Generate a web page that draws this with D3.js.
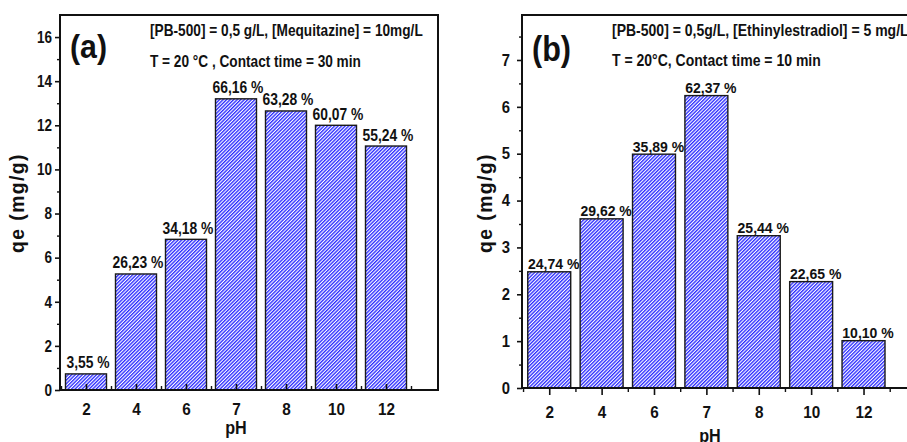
<!DOCTYPE html>
<html>
<head>
<meta charset="utf-8">
<script src="https://cdn.jsdelivr.net/npm/d3@7"></script>
<style>
  html, body { margin: 0; padding: 0; background: #fff; }
  svg { display: block; }
  text { font-family: "Liberation Sans", Arial, sans-serif; font-weight: bold; fill: #111; }
</style>
</head>
<body>
<script>
// ---------- data ----------
const categories = ["2", "4", "6", "7", "8", "10", "12"];
const qeA = [0.73, 5.26, 6.83, 13.2, 12.65, 12.0, 11.06];
const qeB = [2.48, 3.61, 4.99, 6.24, 3.25, 2.27, 1.01];
const labelsA = ["3,55 %", "26,23 %", "34,18 %", "66,16 %", "63,28 %", "60,07 %", "55,24 %"];
const labelsB = ["24,74 %", "29,62 %", "35,89 %", "62,37 %", "25,44 %", "22,65 %", "10,10 %"];
const yTicksA = [0, 2, 4, 6, 8, 10, 12, 14, 16];
const yTicksB = [0, 1, 2, 3, 4, 5, 6, 7];
const notesA = ["[PB-500] = 0,5 g/L, [Mequitazine] = 10mg/L", "T = 20 °C , Contact time = 30 min"];
const notesB = ["[PB-500] = 0,5g/L, [Ethinylestradiol] = 5 mg/L", "T = 20°C, Contact time = 10 min"];

const W = 907, H = 442;
const svg = d3.select("body").append("svg").attr("width", W).attr("height", H);

const defs = svg.append("defs");
const pat = defs.append("pattern").attr("id", "hatch")
  .attr("patternUnits", "userSpaceOnUse").attr("width", 2.5).attr("height", 2.5)
  .attr("patternTransform", "rotate(45)");
pat.append("rect").attr("width", 2.5).attr("height", 2.5).attr("fill", "#fff");
pat.append("rect").attr("width", 1.35).attr("height", 2.5).attr("fill", "#2a2aff");

// horizontal squeeze around the text's own x anchor
function squeeze(sel, s) {
  sel.each(function () {
    const x = +this.getAttribute("x") || 0;
    this.setAttribute("transform", `translate(${x},0) scale(${s},1) translate(${-x},0)`);
  });
}
function fitWidth(node, target) {
  const len = node.getComputedTextLength();
  const s = target / len;
  squeeze(d3.select(node), s);
  return s;
}

function panel(cfg) {
  const g = svg.append("g");
  const x = d3.scaleLinear().domain([-0.52, 7.04]).range([cfg.left, cfg.right]);
  const y = d3.scaleLinear().domain([0, cfg.ymax]).range([cfg.bottom, cfg.top]);
  const idx = d3.range(categories.length);
  const bw = x(0.41) - x(0);

  // bars
  g.selectAll("rect.bar").data(cfg.values).enter().append("rect")
    .attr("class", "bar")
    .attr("x", (d, i) => x(i) - bw)
    .attr("width", 2 * bw)
    .attr("y", d => y(d))
    .attr("height", d => y(0) - y(d))
    .attr("fill", "url(#hatch)")
    .attr("stroke", "#1a1a1a").attr("stroke-width", 1.4);

  // bar labels
  const labs = g.selectAll("text.lab").data(cfg.labels).enter().append("text")
    .attr("class", "lab")
    .attr("x", (d, i) => x(i) + cfg.labDx)
    .attr("y", (d, i) => y(cfg.values[i]) - cfg.labGap)
    .attr("text-anchor", "middle")
    .attr("font-size", cfg.labSize)
    .text(d => d);
  squeeze(labs, cfg.labScale);

  // x axis major
  const xa = g.append("g").attr("transform", `translate(0,${cfg.bottom})`)
    .call(d3.axisBottom(x).tickValues(idx).tickFormat(i => categories[i]).tickSize(cfg.xTick).tickSizeOuter(0));
  xa.select(".domain").remove();
  xa.selectAll("line").attr("stroke", "#111").attr("stroke-width", 1.6);
  const xt = xa.selectAll("text").attr("y", cfg.xLabY - cfg.bottom).attr("dy", 0)
    .attr("font-size", 17).attr("fill", "#111")
    .attr("font-family", "'Liberation Sans', Arial, sans-serif").style("font-weight", "bold");
  squeeze(xt, 0.9);
  // x axis minor
  const xm = g.append("g").attr("transform", `translate(0,${cfg.bottom})`)
    .call(d3.axisBottom(x).tickValues(d3.range(-0.5, 7.5, 1)).tickFormat("").tickSize(cfg.xMinor).tickSizeOuter(0));
  xm.select(".domain").remove();
  xm.selectAll("line").attr("stroke", "#111").attr("stroke-width", 1.4);

  // y axis major
  const ya = g.append("g").attr("transform", `translate(${cfg.left},0)`)
    .call(d3.axisLeft(y).tickValues(cfg.yTicks).tickSize(5).tickPadding(cfg.yPad).tickSizeOuter(0));
  ya.select(".domain").remove();
  ya.selectAll("line").attr("stroke", "#111").attr("stroke-width", 1.6);
  const yt = ya.selectAll("text").attr("font-size", 16.5).attr("fill", "#111")
    .attr("font-family", "'Liberation Sans', Arial, sans-serif").style("font-weight", "bold");
  squeeze(yt, cfg.yScale);
  // y axis minor
  const ym = g.append("g").attr("transform", `translate(${cfg.left},0)`)
    .call(d3.axisLeft(y).tickValues(cfg.yMinor).tickFormat("").tickSize(3).tickSizeOuter(0));
  ym.select(".domain").remove();
  ym.selectAll("line").attr("stroke", "#111").attr("stroke-width", 1.4);

  // frame
  g.append("rect").attr("x", cfg.left).attr("y", cfg.top)
    .attr("width", cfg.right - cfg.left).attr("height", cfg.bottom - cfg.top)
    .attr("fill", "none").attr("stroke", "#111").attr("stroke-width", 2);

  // axis titles
  const ph = g.append("text").attr("x", cfg.pHx).attr("y", cfg.pHy).attr("text-anchor", "middle")
    .attr("font-size", 19).text("pH");
  squeeze(ph, 0.85);
  const qe = g.append("text").attr("text-anchor", "middle").attr("font-size", 20)
    .style("letter-spacing", "1.5px").text("qe (mg/g)");
  const qlen = qe.node().getComputedTextLength();
  qe.attr("transform", `translate(${cfg.qeX},${cfg.qeY}) rotate(-90) scale(${100 / qlen},1)`);

  // panel letter
  const tag = g.append("text").attr("x", cfg.tagX).attr("y", cfg.tagY).attr("font-size", cfg.tagSize).text(cfg.tag);
  squeeze(tag, cfg.tagScale);

  // notes
  let s = 1;
  cfg.notes.forEach((t, i) => {
    const n = g.append("text").attr("x", cfg.noteX).attr("y", cfg.noteY[i]).attr("font-size", 16).text(t);
    if (cfg.noteW[i]) s = fitWidth(n.node(), cfg.noteW[i]);
  });
  if (cfg.noteScaleFirstFromSecond) {
    squeeze(g.selectAll("text").filter(function () { return this.textContent === cfg.notes[0]; }), s);
  }
}

panel({
  left: 60, right: 438, top: 15, bottom: 390, ymax: 17,
  values: qeA, labels: labelsA, yTicks: yTicksA, yMinor: d3.range(1, 17, 2),
  labDx: 2, labGap: 5.5, labSize: 16.5, labScale: 0.84,
  xTick: -6, xMinor: -4, xLabY: 415, yPad: 3, yScale: 0.82,
  pHx: 236, pHy: 434, qeX: 24, qeY: 203,
  tag: "(a)", tagX: 70, tagY: 58, tagSize: 34, tagScale: 0.89,
  notes: notesA, noteX: 150, noteY: [36, 67], noteW: [273, 211]
});

panel({
  left: 522, right: 918, top: 15, bottom: 388, ymax: 7.96,
  values: qeB, labels: labelsB, yTicks: yTicksB, yMinor: d3.range(0.5, 8, 1),
  labDx: 4.5, labGap: 2.5, labSize: 14, labScale: 1.0,
  xTick: 7, xMinor: 4, xLabY: 418, yPad: 7, yScale: 0.9,
  pHx: 710, pHy: 442, qeX: 492, qeY: 203,
  tag: "(b)", tagX: 532, tagY: 61, tagSize: 36, tagScale: 0.85,
  notes: notesB, noteX: 612, noteY: [36, 66], noteW: [null, 209], noteScaleFirstFromSecond: true
});
</script>
</body>
</html>
